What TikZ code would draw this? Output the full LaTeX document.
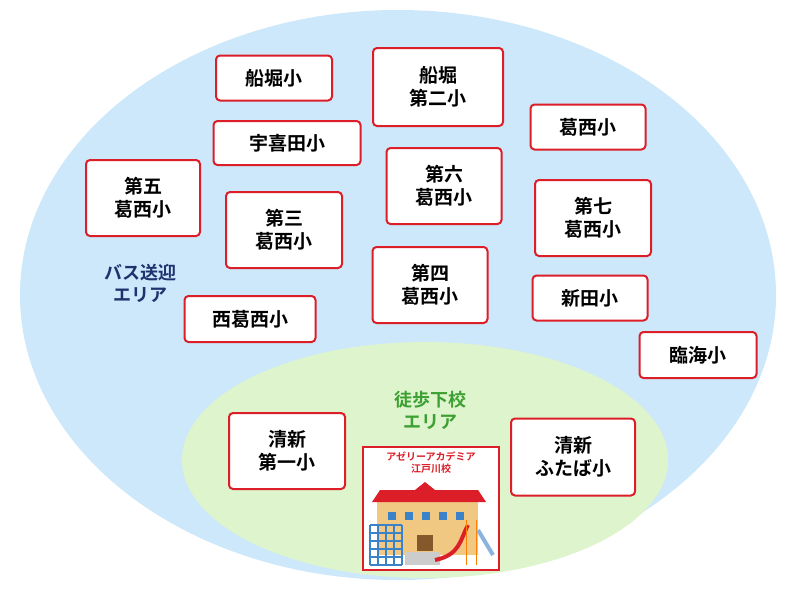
\documentclass[tikz,border=0pt]{standalone}
\usepackage{fontspec}
\setmainfont{Noto Sans CJK JP}[BoldFont={* Bold}]
\usetikzlibrary{positioning}
\definecolor{busblue}{RGB}{204,232,250}
\definecolor{walkgreen}{RGB}{222,244,205}
\definecolor{boxred}{RGB}{220,30,40}
\definecolor{navytext}{RGB}{30,50,110}
\definecolor{greentext}{RGB}{60,160,50}
\definecolor{walltan}{RGB}{240,200,130}
\definecolor{winblue}{RGB}{60,130,200}
\begin{document}
\begin{tikzpicture}[x=1pt,y=-1pt,
  school/.style={draw=boxred, line width=2pt, fill=white, rounded corners=4pt,
    align=center, font=\bfseries\fontsize{19}{23}\selectfont, inner sep=0pt},
  area/.style={align=center, font=\bfseries\fontsize{18}{22}\selectfont}]
\useasboundingbox (0,0) rectangle (786,597);
\fill[white] (0,0) rectangle (786,597);
\fill[busblue] (398,295) ellipse [x radius=378, y radius=285];
\fill[walkgreen] (425,460) ellipse [x radius=243, y radius=118];
% schools
\node[school, minimum width=116, minimum height=45] (funabori) at (274,78) {船堀小};
\node[school, minimum width=130, minimum height=78] (funabori2) at (438,87) {船堀\\第二小};
\node[school, minimum width=115, minimum height=45] (kasai) at (588,127) {葛西小};
\node[school, minimum width=147, minimum height=44] (ukita) at (287,143) {宇喜田小};
\node[school, minimum width=114, minimum height=76] (kasai5) at (143,198) {第五\\葛西小};
\node[school, minimum width=115, minimum height=76] (kasai6) at (444,186) {第六\\葛西小};
\node[school, minimum width=116, minimum height=76] (kasai3) at (284,230) {第三\\葛西小};
\node[school, minimum width=116, minimum height=76] (kasai7) at (593,218) {第七\\葛西小};
\node[school, minimum width=115, minimum height=76] (kasai4) at (430,285) {第四\\葛西小};
\node[school, minimum width=115, minimum height=45] (shinden) at (590,298) {新田小};
\node[school, minimum width=131, minimum height=46] (nishikasai) at (250,319) {西葛西小};
\node[school, minimum width=117, minimum height=46] (rinkai) at (698,355) {臨海小};
\node[school, minimum width=116, minimum height=76] (seishin1) at (287,451) {清新\\第一小};
\node[school, minimum width=124, minimum height=77] (futaba) at (573,457) {清新\\ふたば小};
% areas
\node[area, text=navytext] (bus) at (140,283) {バス送迎\\エリア};
\node[area, text=greentext] (walk) at (430,410) {徒歩下校\\エリア};
% academy
\node[draw=boxred, line width=2pt, fill=white, minimum width=136, minimum height=123] (academy) at (431,508) {};
\node[text=boxred, align=center, font=\bfseries\fontsize{10}{12}\selectfont, below=3pt of academy.north] (acname) {アゼリーアカデミア\\江戸川校};
\fill[walltan] (377,502) rectangle (478,555);
\fill[boxred] (372,502) -- (380,490) -- (415,490) -- (425,482) -- (435,490) -- (478,490) -- (486,502) -- cycle;
\foreach \wx in {388,405,422,439,456}
  \fill[winblue] (\wx,512) rectangle ++(8,8);
\fill[brown!70!black] (417,535) rectangle (433,551);
\foreach \gx in {370,378,...,402}
  \draw[winblue, line width=1.2pt] (\gx,525) -- (\gx,565);
\foreach \gy in {525,533,...,565}
  \draw[winblue, line width=1.2pt] (370,\gy) -- (402,\gy);
\fill[gray!40] (405,552) rectangle (440,565);
\draw[boxred, line width=4pt] (435,560) .. controls (460,555) and (460,540) .. (468,525);
\draw[orange, line width=1pt] (466,520) -- (466,565) (476,520) -- (476,565);
\draw[winblue!60, line width=4pt] (478,530) -- (493,555);
\end{tikzpicture}
\end{document}
